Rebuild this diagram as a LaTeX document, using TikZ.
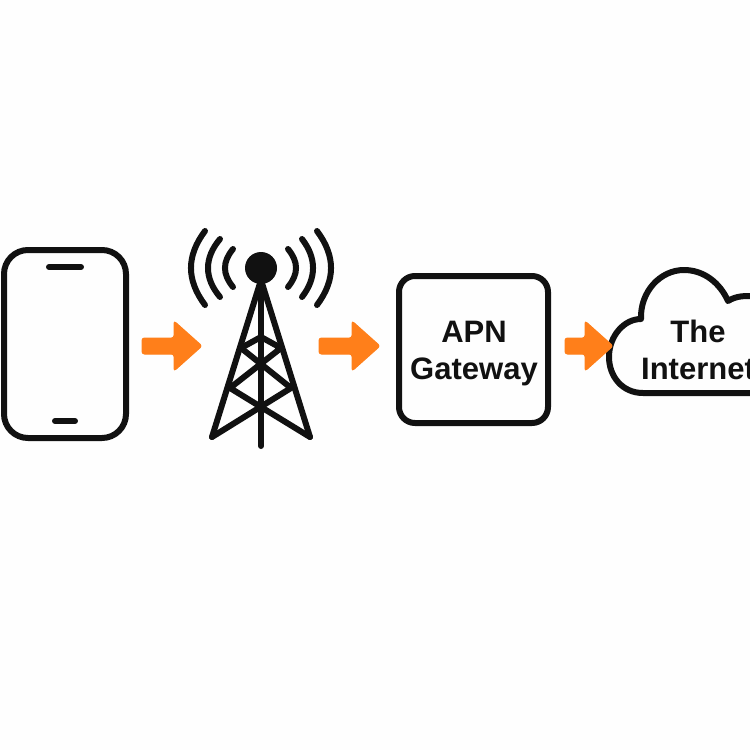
\documentclass[tikz,border=0pt]{standalone}
\usepackage{fontspec}
\setmainfont{Liberation Sans}
\usetikzlibrary{calc}
\definecolor{ink}{HTML}{111111}
\definecolor{flow}{HTML}{FF7F1A}
\tikzset{
  icon/.style={draw=ink,line width=6pt,line cap=round,line join=round},
  towerline/.style={draw=ink,line width=6pt,line cap=round,line join=round},
  wave/.style={draw=ink,line width=6pt,line cap=round},
  label/.style={font=\fontsize{31}{36.5}\selectfont\bfseries,text=ink,align=center,anchor=base,inner sep=0pt},
  flowarrow/.style={fill=flow,draw=flow,line width=1pt,rounded corners=2.5pt},
}
\newcommand{\flowarrow}[2]{%
  \path[flowarrow] ($(#1)+(0,-8)$) -- ($(#2)+(-28,-8)$) -- ($(#2)+(-28,-25)$) -- (#2) -- ($(#2)+(-28,25)$) -- ($(#2)+(-28,8)$) -- ($(#1)+(0,8)$) -- cycle;}
\begin{document}
\begin{tikzpicture}[x=1pt,y=-1pt]
\useasboundingbox (0,0) rectangle (750,750);
\fill[white!99.6!black] (0,0) rectangle (750,750);
\clip (0,0) rectangle (750,750);
% phone
\node[icon,rounded corners=24pt,minimum width=122pt,minimum height=188pt,inner sep=0pt] (phone) at (65,344) {};
\draw[icon] ($(phone.center)+(-16,-77)$) -- ($(phone.center)+(16,-77)$);
\draw[icon] ($(phone.center)+(-10,77)$) -- ($(phone.center)+(10,77)$);
% tower
\coordinate (top) at (261,268);
\fill[ink] (top) circle (16);
\coordinate (apex) at (261,280);
\coordinate (footl) at (212,437);
\coordinate (footr) at (310,437);
\coordinate (mast) at (261,446);
\coordinate (a) at (261,337);
\coordinate (l1) at (241,348);
\coordinate (r1) at (281,348);
\coordinate (l2) at (230,388);
\coordinate (r2) at (291,388);
\draw[towerline] (footl) -- (apex) -- (footr);
\draw[towerline] (apex) -- (mast);
\draw[towerline] (l1) -- (a) -- (r1) -- (l2) -- (footr);
\draw[towerline] (l1) -- (r2) -- (footl);
% waves
\draw[wave] (205,231) .. controls (186.3,256) and (186.3,280) .. (205,305);
\draw[wave] (220,239) .. controls (204,258) and (204,278) .. (220,297);
\draw[wave] (233,249) .. controls (222.3,262) and (222.3,274) .. (233,287);
\draw[wave] (317,231) .. controls (335.7,256) and (335.7,280) .. (317,305);
\draw[wave] (302,239) .. controls (316.7,258) and (316.7,278) .. (302,297);
\draw[wave] (288,249) .. controls (298.7,262) and (298.7,274) .. (288,287);
% gateway
\node[icon,rounded corners=16pt,minimum width=149pt,minimum height=147pt,inner sep=0pt] (gateway) at (473.5,349.5) {};
\node[label] (gatewaytext) at (474,379) {APN\\Gateway};
% cloud
\draw[icon] (760,393) -- (643,393)
  .. controls (622,393) and (609,376) .. (609,357)
  .. controls (609,336) and (624,319) .. (641,319)
  .. controls (640,292) and (660,270) .. (684,270)
  .. controls (704,270) and (720,283) .. (728,301)
  .. controls (736,296) and (745,295) .. (760,297);
\node[label] (cloudtext) at (698,379) {The\\Internet};
% arrows
\coordinate (s1) at (142,346); \coordinate (e1) at (202,346);
\coordinate (s2) at (319,346); \coordinate (e2) at (380,346);
\coordinate (s3) at (565,346); \coordinate (e3) at (613,346);
\flowarrow{s1}{e1}
\flowarrow{s2}{e2}
\flowarrow{s3}{e3}
\end{tikzpicture}
\end{document}
